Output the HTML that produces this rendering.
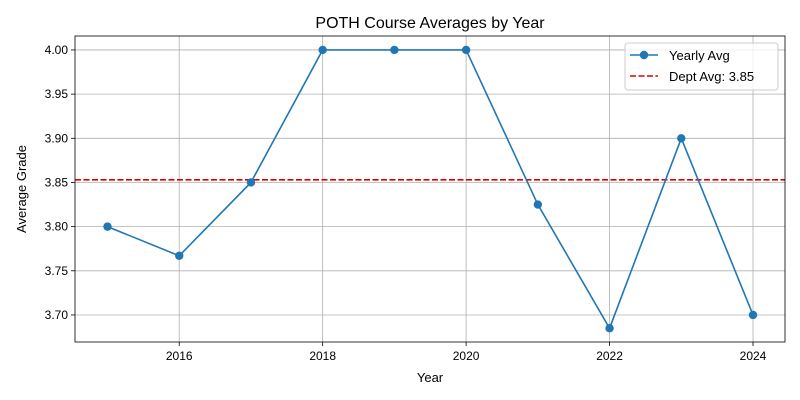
<!DOCTYPE html>
<html><head><meta charset="utf-8"><style>
body{margin:0;background:#fff;}
svg{display:block;font-family:"Liberation Sans","DejaVu Sans",sans-serif;}
</style></head><body>
<svg id="chart" width="800" height="400"></svg>
<script>
const years=[2015,2016,2017,2018,2019,2020,2021,2022,2023,2024];
const avgs=[3.80,3.767,3.85,4.00,4.00,4.00,3.825,3.685,3.90,3.70];
const deptAvg=3.853;
const xTicks=[2016,2018,2020,2022,2024];
const yTicks=[3.70,3.75,3.80,3.85,3.90,3.95,4.00];
const L=75,R=785,T=36,B=342;
const xMin=2014.547,xMax=2024.446,yMin=3.6694,yMax=4.0158;
const sx=v=>L+(v-xMin)/(xMax-xMin)*(R-L);
const sy=v=>B-(v-yMin)/(yMax-yMin)*(B-T);
const NS="http://www.w3.org/2000/svg";
const svg=document.getElementById('chart');
function mk(t,a,txt){const e=document.createElementNS(NS,t);for(const k in a)e.setAttribute(k,a[k]);if(txt!==undefined)e.textContent=txt;svg.appendChild(e);return e;}
xTicks.forEach(v=>{const x=sx(v);
const g=mk('line',{x1:x,x2:x,y1:T,y2:B,stroke:'#b0b0b0','stroke-width':0.8});

mk('line',{x1:x,x2:x,y1:B,y2:B+4,stroke:'#000','stroke-width':0.8});
const t=mk('text',{x:x,y:B+18,'font-size':12,'text-anchor':'middle'},String(v));
});
yTicks.forEach(v=>{const y=sy(v);
const g=mk('line',{x1:L,x2:R,y1:y,y2:y,stroke:'#b0b0b0','stroke-width':0.8});

mk('line',{x1:L-4,x2:L,y1:y,y2:y,stroke:'#000','stroke-width':0.8});
const t=mk('text',{x:L-7,y:y+4,'font-size':12,'text-anchor':'end'},v.toFixed(2));
});
const d=mk('line',{x1:L,x2:R,y1:sy(deptAvg),y2:sy(deptAvg),stroke:'#e00000','stroke-width':1.6,'stroke-dasharray':'6,2.5'});

const pl=mk('polyline',{points:years.map((y,i)=>sx(y)+','+sy(avgs[i])).join(' '),fill:'none',stroke:'#1f77b4','stroke-width':1.6});

years.forEach((y,i)=>{const c=mk('circle',{cx:sx(y),cy:sy(avgs[i]),r:4.2,fill:'#1f77b4'});
});
const fr=mk('rect',{x:L,y:T,width:R-L,height:B-T,fill:'none',stroke:'#000','stroke-width':0.8});

const ti=mk('text',{x:(L+R)/2,y:28,'font-size':16,'text-anchor':'middle'},'POTH Course Averages by Year');

const xl=mk('text',{x:(L+R)/2,y:382,'font-size':13,'text-anchor':'middle'},'Year');

const yl=mk('text',{x:26,y:(T+B)/2,'font-size':13,'text-anchor':'middle',transform:'rotate(-90 26 '+(T+B)/2+')'},'Average Grade');

const lg=mk('rect',{x:625,y:43,width:153,height:47,fill:'#fff','fill-opacity':0.8,stroke:'#ccc',rx:3});

mk('line',{x1:630,x2:658,y1:55,y2:55,stroke:'#1f77b4','stroke-width':1.6});
mk('circle',{cx:644,cy:55,r:4.2,fill:'#1f77b4'});
const l1=mk('text',{x:669,y:60,'font-size':13},'Yearly Avg');

mk('line',{x1:630,x2:658,y1:76,y2:76,stroke:'#e00000','stroke-width':1.6,'stroke-dasharray':'6,2.5'});
const l2=mk('text',{x:669,y:81,'font-size':13},'Dept Avg: 3.85');

</script>
</body></html>
